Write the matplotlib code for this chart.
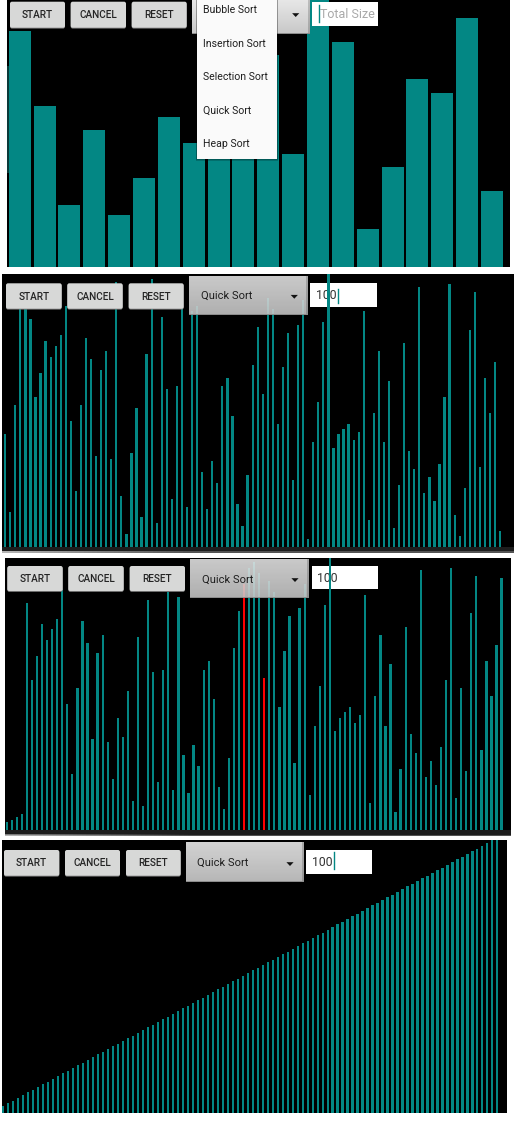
import matplotlib
matplotlib.use("Agg")
import matplotlib.pyplot as plt
import numpy as np
from matplotlib.patches import Rectangle, FancyBboxPatch, Polygon
from matplotlib.transforms import Affine2D
from matplotlib.collections import LineCollection

plt.rcParams['font.family'] = ['Roboto', 'DejaVu Sans']

# ---------------- data ----------------
p1_values = [88, 60, 23, 51, 19, 33, 56, 46, 70, 80, 79, 42, 102, 84, 14, 37, 70, 65, 93, 28]

p2_values = [40, 11, 51, 92, 95, 83, 54, 63, 75, 69,
             73, 77, 88, 45, 19, 51, 76, 68, 32, 64,
             71, 31, 97, 17, 3, 33, 50, 9, 70, 98,
             7, 84, 57, 16, 58, 90, 13, 86, 88, 26,
             12, 30, 22, 58, 61, 47, 14, 6, 25, 66,
             80, 55, 91, 87, 44, 65, 78, 23, 81, 90,
             1, 37, 52, 82, 100, 35, 40, 42, 44, 38,
             41, 86, 8, 48, 71, 37, 60, 5, 21, 74,
             34, 27, 95, 18, 24, 15, 29, 54, 96, 10,
             2, 20, 79, 93, 28, 61, 48, 67, 4]

p3_values = [1, 2, 3, 4, 83, 54, 63, 75, 69, 73,
             77, 88, 45, 19, 51, 76, 68, 32, 64, 71,
             31, 17, 40, 33, 50, 9, 70, 7, 84, 57,
             16, 58, 87, 13, 85, 26, 12, 30, 22, 58,
             61, 47, 14, 6, 25, 66, 80, 90, 96, 98,
             94, 55, 91, 87, 44, 65, 78, 23, 81, 90,
             11, 37, 52, 82, 100, 35, 40, 42, 44, 38,
             41, 86, 8, 48, 71, 37, 60, 5, 21, 74,
             34, 27, 95, 18, 24, 15, 29, 54, 96, 10,
             51, 20, 79, 93, 28, 61, 48, 67, 92]
p3_highlight = [47, 51]

p4_values = [1, 2, 3, 4, 5, 6, 7, 8, 9, 10,
             11, 12, 13, 14, 15, 16, 17, 18, 19, 20,
             21, 22, 23, 24, 25, 26, 27, 28, 29, 30,
             31, 32, 33, 34, 35, 36, 37, 38, 39, 40,
             41, 42, 43, 44, 45, 46, 47, 48, 49, 50,
             51, 52, 53, 54, 55, 56, 57, 58, 59, 60,
             61, 62, 63, 64, 65, 66, 67, 68, 69, 70,
             71, 72, 73, 74, 75, 76, 77, 78, 79, 80,
             81, 82, 83, 84, 85, 86, 87, 88, 89, 90,
             91, 92, 93, 94, 95, 96, 97, 98, 99, 100]

button_labels = ["START", "CANCEL", "RESET"]
menu_items = ["Bubble Sort", "Insertion Sort", "Selection Sort", "Quick Sort", "Heap Sort"]
spinner_label = "Quick Sort"
size_text = "100"
size_hint = "Total Size"

# ---------------- figure ----------------
W, H, DPI = 526, 1146, 100
fig = plt.figure(figsize=(W / DPI, H / DPI), dpi=DPI, facecolor='white')
PX = Affine2D().scale(1.0 / DPI, -1.0 / DPI).translate(0, H / DPI) + fig.dpi_scale_trans

TEAL = '#038784'
RED = '#ff0000'


def panel(box, values, first_px, pitch_px, width_frac, unit_px, offset, colors=None):
    x0, y0, x1, y1 = box
    ax = fig.add_axes([x0 / W, 1 - y1 / H, (x1 - x0) / W, (y1 - y0) / H])
    ax.set_facecolor('black')
    idx = np.arange(len(values))
    vals = np.asarray(values, dtype=float)
    ax.bar(idx, vals + offset, bottom=-offset, width=width_frac,
           color=colors if colors is not None else TEAL, linewidth=0, zorder=2)
    ax.set_xlim((x0 - first_px) / pitch_px, (x1 - first_px) / pitch_px)
    ax.set_ylim(-offset, (y1 - y0) / unit_px - offset)
    ax.set_xticks([])
    ax.set_yticks([])
    for s in ax.spines.values():
        s.set_visible(False)
    return ax


def button(x0, y0, x1, y1, label):
    sh = FancyBboxPatch((x0, y0 + 0.9), x1 - x0, y1 - y0,
                        boxstyle="round,pad=0,rounding_size=2", transform=PX,
                        facecolor='#7a7a7a', edgecolor='none', zorder=5)
    b = FancyBboxPatch((x0, y0), x1 - x0, y1 - y0,
                       boxstyle="round,pad=0,rounding_size=2", transform=PX,
                       facecolor='#d7d8d7', edgecolor='none', zorder=6)
    fig.add_artist(sh)
    fig.add_artist(b)
    fig.text((x0 + x1) / 2, (y0 + y1) / 2 + 0.5, label, transform=PX, ha='center', va='center',
             fontsize=7.2, fontweight='medium', color='#242424', zorder=7)


def spinner(x0, y0, x1, y1, alpha, label=None, text_x=None, arrow=None):
    w = int(round(x1 - x0))
    h = int(round(y1 - y0))
    t = np.linspace(0, 1, h)[:, None]
    g = 0.905 - 0.12 * t
    arr = np.ones((h, w, 4))
    arr[..., 0] = g
    arr[..., 1] = g
    arr[..., 2] = g
    arr[..., 3] = alpha
    arr[:, -2:, :3] *= 0.82
    arr[-1, :, :3] = 0.55
    arr[-1, :, 3] = 1.0
    fig.figimage(arr, xo=int(round(x0)), yo=int(round(H - y1)), origin='upper', zorder=5)
    if label is not None:
        fig.text(text_x, (y0 + y1) / 2 + 0.5, label, transform=PX, ha='left', va='center',
                 fontsize=8.0, color='#1e1e1e', zorder=7)
    if arrow is not None:
        ax_, ay_ = arrow
        tri = Polygon([(ax_ - 3.6, ay_ - 1.8), (ax_ + 3.6, ay_ - 1.8), (ax_, ay_ + 2.0)],
                      closed=True, transform=PX, facecolor='#111111', edgecolor='none', zorder=7)
        fig.add_artist(tri)


def textbox(target, x0, y0, x1, y1, text, text_x, color, cursor_x=None, cy=None, fs=8.8):
    z = 0.5 if target is not fig else 6
    r = Rectangle((x0, y0), x1 - x0, y1 - y0, transform=PX, facecolor='white',
                  edgecolor='none', zorder=z, clip_on=False)
    t_kw = dict(transform=PX, ha='left', va='center', fontsize=fs, color=color, zorder=z + 0.1,
                clip_on=False)
    if target is fig:
        fig.add_artist(r)
        fig.text(text_x, (y0 + y1) / 2 + 0.5, text, **t_kw)
    else:
        target.add_patch(r)
        target.text(text_x, (y0 + y1) / 2 + 0.5, text, **t_kw)
    if cursor_x is not None:
        ln = plt.Line2D([cursor_x, cursor_x], [cy[0], cy[1]], transform=PX, color=TEAL,
                        linewidth=1.0, zorder=z + 0.2, clip_on=False)
        if target is fig:
            fig.add_artist(ln)
        else:
            target.add_line(ln)


def bottom_strip(x0, x1, y_base, y_line):
    fig.add_artist(Rectangle((x0, y_base), x1 - x0, y_line - y_base, transform=PX,
                             facecolor='#1d1d1d', edgecolor='none', zorder=3))
    xs = np.linspace(x0, x1, 120)
    segs = [[(xs[i], y_line + 0.6), (xs[i + 1], y_line + 0.6)] for i in range(len(xs) - 1)]
    cols = []
    for i in range(len(xs) - 1):
        f = min(1.0, (xs[i] - x0) / 185.0)
        g = 0.62 - 0.5 * f
        cols.append((g, g, g))
    fig.add_artist(LineCollection(segs, colors=cols, linewidths=1.1, transform=PX, zorder=3))


# ---------------- panel 1 ----------------
ax1 = panel((7, 0, 510.3, 267), p1_values, 19.7, 24.86, 0.885, 8 / 3, 0.4)
fig.add_artist(Rectangle((7.2, 66), 1.5, 107, transform=PX, facecolor='#0b3a39',
                         edgecolor='none', zorder=3))
for lab, (a, b) in zip(button_labels, [(10, 65), (70.7, 126), (131.7, 186.7)]):
    button(a, 1.7, b, 27.7, lab)
spinner(192.3, 0, 310, 34.3, 1.0, arrow=(295.7, 15))
textbox(fig, 312.3, 1.7, 378.3, 25.7, size_hint, 319.8, '#a9a9a9',
        cursor_x=318.5, cy=(5, 21.7), fs=9.0)
# popup menu
fig.add_artist(Rectangle((195.7, 0), 82.3, 161.0, transform=PX, facecolor='#000000',
                         alpha=0.18, edgecolor='none', zorder=8))
fig.add_artist(Rectangle((196.2, 0), 81.3, 160.2, transform=PX, facecolor='#000000',
                         alpha=0.18, edgecolor='none', zorder=8))
fig.add_artist(Rectangle((196.7, 0), 80.0, 159.3, transform=PX, facecolor='#fafafa',
                         edgecolor='none', zorder=9))
for item, yy in zip(menu_items, [10.3, 43.6, 77.0, 110.3, 143.6]):
    fig.text(203.2, yy, item, transform=PX, ha='left', va='center', fontsize=7.6,
             color='#1f1f1f', zorder=10)

# ---------------- panel 2 ----------------
ax2 = panel((2, 274, 514.3, 546.7), p2_values, 5.2, 5.05, 0.455, 2.679, 1.9)
bottom_strip(2, 514.3, 546.7, 551.0)
for lab, (a, b) in zip(button_labels, [(6, 61.7), (67.3, 122.7), (128.7, 183.7)]):
    button(a, 283.3, b, 308.7, lab)
spinner(189.3, 276, 308, 315.3, 0.88, spinner_label, 200.7, (294.3, 296.7))
textbox(ax2, 310, 282.7, 376.7, 306.7, size_text, 316.0, '#333333',
        cursor_x=337.6, cy=(288.7, 302.7))

# ---------------- panel 3 ----------------
p3_colors = [RED if i in p3_highlight else TEAL for i in range(len(p3_values))]
ax3 = panel((5, 558.3, 511, 830), p3_values, 6.7, 5.05, 0.455, 2.679, 1.9, colors=p3_colors)
bottom_strip(5, 511, 830, 834.6)
for lab, (a, b) in zip(button_labels, [(7.3, 62.7), (68.3, 123.7), (129.7, 185)]):
    button(a, 566, b, 591, lab)
spinner(190, 559.3, 309, 598.3, 0.88, spinner_label, 201.7, (295, 580))
textbox(ax3, 311.7, 566, 377.7, 589.3, size_text, 317.3, '#333333')

# ---------------- panel 4 ----------------
ax4 = panel((2, 840, 507, 1113.3), p4_values, 3.3, 4.99, 0.46, 2.71, 1.7)
for lab, (a, b) in zip(button_labels, [(4, 59.3), (65, 120), (126, 180.7)]):
    button(a, 850, b, 875.7, lab)
spinner(185.7, 842.3, 303.7, 882.3, 0.92, spinner_label, 196.7, (290, 864))
textbox(ax4, 306.3, 850, 372.3, 874, size_text, 312.3, '#333333',
        cursor_x=333.8, cy=(851.7, 869.3))

fig.savefig('out.png', dpi=DPI, facecolor='white')
